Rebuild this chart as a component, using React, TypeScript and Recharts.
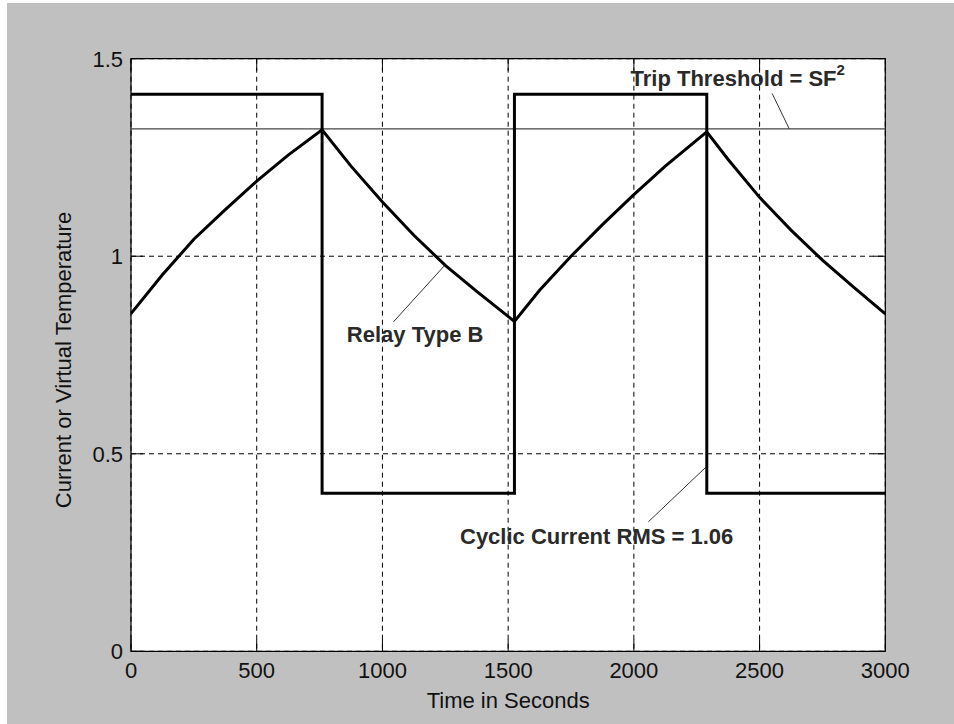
import React from "react";
import {
  ComposedChart,
  Line,
  XAxis,
  YAxis,
  CartesianGrid,
  ReferenceLine,
  ReferenceArea,
  ReferenceDot,
} from "recharts";

// time axis / value axis ticks
const TIME_TICKS = [0, 500, 1000, 1500, 2000, 2500, 3000];
const LEVEL_TICKS = [0, 0.5, 1, 1.5];

// cyclic load current (per unit), switching instants in seconds
const currentTimes = [0, 760, 1525, 2290, 3000];
const currentLevels = [1.41, 0.4, 1.41, 0.4, 0.4];

// relay type B virtual temperature
const relayTimes = [
  0, 125, 250, 375, 500, 625, 760, 875, 1000, 1125, 1250, 1375, 1525, 1625, 1750, 1875, 2000,
  2125, 2290, 2375, 2500, 2625, 2750, 2875, 3000,
];
const relayLevels = [
  0.855, 0.953, 1.043, 1.118, 1.19, 1.256, 1.32, 1.228, 1.137, 1.053, 0.977, 0.911, 0.835, 0.914,
  1.0, 1.08, 1.156, 1.228, 1.315, 1.245, 1.149, 1.066, 0.99, 0.921, 0.854,
];

// SF = 1.15
const TRIP_THRESHOLD = 1.3225;

const W = 954;
const H = 724;
const PLOT = { left: 131, top: 58.7, right: 885.3, bottom: 651.3 };
const TICK_LEN = 12;
const FONT = '"Liberation Sans", Arial, Helvetica, sans-serif';

const currentData = currentTimes.map((t, i) => ({ t, v: currentLevels[i] }));
const relayData = relayTimes.map((t, i) => ({ t, v: relayLevels[i] }));

const XTick = (props: any) => {
  const { x, payload } = props;
  return (
    <g>
      <line x1={x} x2={x} y1={PLOT.bottom} y2={PLOT.bottom - TICK_LEN} stroke="#000" />
      <line x1={x} x2={x} y1={PLOT.top} y2={PLOT.top + TICK_LEN} stroke="#000" />
      <text x={x} y={PLOT.bottom + 27} textAnchor="middle" fontSize={22} fontFamily={FONT} fill="#111">
        {payload.value}
      </text>
    </g>
  );
};

const YTick = (props: any) => {
  const { y, payload } = props;
  return (
    <g>
      <line x1={PLOT.left} x2={PLOT.left + TICK_LEN} y1={y} y2={y} stroke="#000" />
      <line x1={PLOT.right} x2={PLOT.right - TICK_LEN} y1={y} y2={y} stroke="#000" />
      <text x={PLOT.left - 8} y={y + 8} textAnchor="end" fontSize={22} fontFamily={FONT} fill="#111">
        {payload.value}
      </text>
    </g>
  );
};

// annotation text centred on a data point (baseline at the point)
const note = (text: string, sup?: string) => (props: any) => {
  const vb = props.viewBox || {};
  const cx = (vb.x ?? 0) + (vb.width ?? 0) / 2;
  const cy = (vb.y ?? 0) + (vb.height ?? 0) / 2;
  return (
    <text
      x={cx}
      y={cy}
      textAnchor="middle"
      fontSize={22}
      fontWeight="bold"
      fontFamily={FONT}
      fill="#2a2a2a"
    >
      {text}
      {sup && (
        <tspan dy={-11} fontSize={15}>
          {sup}
        </tspan>
      )}
    </text>
  );
};

export default function App() {
  return (
    <div style={{ position: "fixed", left: 0, top: 0, width: W, height: H, background: "#fff" }}>
      <div style={{ position: "absolute", left: 7, top: 3, right: 0, bottom: 0, background: "#c0c0c0" }} />
      <div style={{ position: "absolute", left: 0, top: 0 }}>
        <ComposedChart
          width={W}
          height={H}
          margin={{ top: PLOT.top, right: W - PLOT.right, bottom: 0, left: 0 }}
        >
          <CartesianGrid
            fill="#fff"
            stroke="#000"
            strokeDasharray="5 4"
            horizontalValues={LEVEL_TICKS}
            verticalValues={TIME_TICKS}
          />
          <XAxis
            type="number"
            dataKey="t"
            domain={[0, 3000]}
            ticks={TIME_TICKS}
            allowDataOverflow
            axisLine={false}
            tickLine={false}
            tickSize={0}
            height={H - PLOT.bottom}
            tick={<XTick />}
            label={{
              content: () => (
                <text x={(PLOT.left + PLOT.right) / 2} y={708} textAnchor="middle" fontSize={22} fontFamily={FONT} fill="#111">
                  Time in Seconds
                </text>
              ),
            }}
          />
          <YAxis
            type="number"
            domain={[0, 1.5]}
            ticks={LEVEL_TICKS}
            allowDataOverflow
            axisLine={false}
            tickLine={false}
            tickSize={0}
            width={PLOT.left}
            tick={<YTick />}
            label={{
              content: () => (
                <text
                  x={0}
                  y={0}
                  transform={`translate(71, 360) rotate(-90)`}
                  textAnchor="middle"
                  fontSize={22}
                  fontFamily={FONT}
                  fill="#111"
                >
                  Current or Virtual Temperature
                </text>
              ),
            }}
          />
          <ReferenceLine y={TRIP_THRESHOLD} stroke="#444" strokeWidth={1.3} />
          <Line
            data={currentData}
            dataKey="v"
            type="stepAfter"
            stroke="#000"
            strokeWidth={3}
            dot={false}
            isAnimationActive={false}
          />
          <Line
            data={relayData}
            dataKey="v"
            type="linear"
            stroke="#000"
            strokeWidth={3}
            dot={false}
            isAnimationActive={false}
          />
          <ReferenceLine segment={[{ x: 2550, y: 1.412 }, { x: 2618, y: TRIP_THRESHOLD }]} stroke="#333" />
          <ReferenceLine segment={[{ x: 1044, y: 0.834 }, { x: 1245, y: 0.975 }]} stroke="#333" />
          <ReferenceLine segment={[{ x: 2058, y: 0.328 }, { x: 2288, y: 0.467 }]} stroke="#333" />
          <ReferenceDot x={2413} y={1.431} r={1} fill="none" stroke="none" label={note("Trip Threshold = SF", "2")} />
          <ReferenceDot x={1130} y={0.784} r={1} fill="none" stroke="none" label={note("Relay Type B")} />
          <ReferenceDot x={1852} y={0.272} r={1} fill="none" stroke="none" label={note("Cyclic Current RMS = 1.06")} />
          <ReferenceArea x1={0} x2={3000} y1={0} y2={1.5} fill="none" stroke="#000" strokeWidth={1.2} />
        </ComposedChart>
      </div>
    </div>
  );
}
